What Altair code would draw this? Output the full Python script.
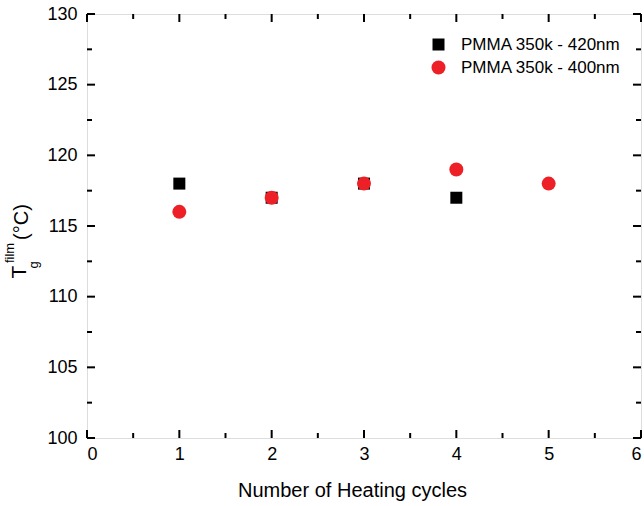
import altair as alt
import pandas as pd

# ---- data ----
series_a = "PMMA 350k - 420nm"
series_b = "PMMA 350k - 400nm"
cycles_a = [1, 2, 3, 4]
tg_a = [118, 117, 118, 117]
cycles_b = [1, 2, 3, 4, 5]
tg_b = [116, 117, 118, 119, 118]

x_major = [0, 1, 2, 3, 4, 5, 6]
x_minor = [0.5, 1.5, 2.5, 3.5, 4.5, 5.5]
y_major = [100, 105, 110, 115, 120, 125, 130]
y_minor = [102.5, 107.5, 112.5, 117.5, 122.5, 127.5]

W, H = 554, 424
FONT = "Liberation Sans"
RED = "#ee2027"

pts = pd.DataFrame({
    "cycles": cycles_a + cycles_b,
    "tg": tg_a + tg_b,
    "series": [series_a] * len(cycles_a) + [series_b] * len(cycles_b),
})

xs = alt.Scale(domain=[0, 6], nice=False, zero=False)
ys = alt.Scale(domain=[100, 130], nice=False, zero=False)

leg = alt.Legend(title=None, orient="none", legendX=343, legendY=22,
                 labelFont=FONT, labelFontSize=17, labelColor="black",
                 symbolSize=170, symbolStrokeWidth=0, labelOffset=14,
                 rowPadding=5, padding=0)

points = alt.Chart(pts).mark_point(filled=True, opacity=1).encode(
    x=alt.X("cycles:Q", scale=xs, axis=alt.Axis(
        values=x_major, format="d", ticks=False, domain=False, grid=False,
        labelFontSize=18, labelFont=FONT, labelColor="black", labelPadding=7,
        title="Number of Heating cycles", titleFont=FONT, titleFontSize=20,
        titleFontWeight="normal", titleColor="black",
        titleX=265, titleY=58, titleBaseline="alphabetic", titleAnchor="middle")),
    y=alt.Y("tg:Q", scale=ys, axis=alt.Axis(
        values=y_major, format="d", ticks=False, domain=False, grid=False,
        labelFontSize=18, labelFont=FONT, labelColor="black", labelPadding=10,
        title=None)),
    shape=alt.Shape("series:N", scale=alt.Scale(domain=[series_a, series_b], range=["square", "circle"]),
                    legend=leg),
    color=alt.Color("series:N", scale=alt.Scale(domain=[series_a, series_b], range=["black", RED]),
                    legend=leg),
    size=alt.Size("series:N", scale=alt.Scale(domain=[series_a, series_b], range=[144, 196]), legend=None),
)

def tick_layer(vals, orient, length):
    df = pd.DataFrame({"v": vals})
    base = alt.Chart(df).mark_rule(color="black", strokeWidth=2)
    if orient == "bottom":
        return base.encode(x=alt.X("v:Q", scale=xs), y=alt.value(H), y2=alt.value(H - length))
    if orient == "top":
        return base.encode(x=alt.X("v:Q", scale=xs), y=alt.value(0), y2=alt.value(length))
    if orient == "left":
        return base.encode(y=alt.Y("v:Q", scale=ys), x=alt.value(0), x2=alt.value(length))
    return base.encode(y=alt.Y("v:Q", scale=ys), x=alt.value(W), x2=alt.value(W - length))

ticks = [
    tick_layer(x_major, "bottom", 8), tick_layer(x_minor, "bottom", 5),
    tick_layer(x_major, "top", 8), tick_layer(x_minor, "top", 5),
    tick_layer(y_major, "left", 8), tick_layer(y_minor, "left", 5),
    tick_layer(y_major, "right", 8), tick_layer(y_minor, "right", 5),
]

def ytext(txt, x, y, size):
    return alt.Chart(pd.DataFrame({"t": [txt]})).mark_text(
        angle=270, align="center", baseline="middle", font=FONT, fontSize=size, color="black"
    ).encode(text="t:N", x=alt.value(x), y=alt.value(y))

ytitle = [
    ytext("T", 20 - 87, 272 - 14, 21),
    ytext("g", 34 - 87, 265 - 14, 13),
    ytext("film", 10 - 87, 253 - 14, 13),
    ytext("(°C)", 22 - 87, 222 - 14, 20),
]

chart = alt.layer(points, *ticks, *ytitle).properties(
    width=W, height=H,
    autosize=alt.AutoSizeParams(type="none"),
    padding={"left": 87, "top": 14, "right": 3, "bottom": 68},
).configure_view(stroke="black", strokeWidth=2).configure(background="white")

chart.save("out.html", embed_options={"renderer": "svg", "actions": False})
